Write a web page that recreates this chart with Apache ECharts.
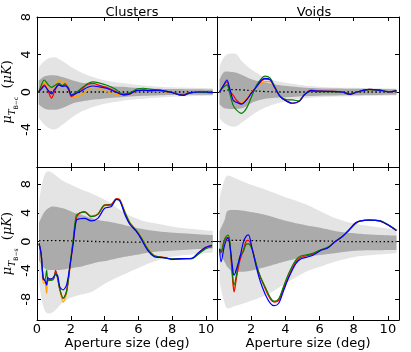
<!DOCTYPE html>
<html>
<head>
<meta charset="utf-8">
<script src="https://cdn.jsdelivr.net/npm/echarts@6/dist/echarts.min.js"></script>
<style>
  html, body { margin: 0; padding: 0; background: #fff; }
  #chart { width: 411px; height: 352px; }
</style>
</head>
<body>
<div id="chart"></div>
<script>
// ---- tick labels ----
const xTicks = [0, 2, 4, 6, 8, 10]
const xLabelsRight = [2, 4, 6, 8, 10]
const yTicksTop = [-8, -4, 0, 4, 8]
const yLabelsTop = [-4, 0, 4, 8]
const yTicksBottom = [-8, -4, 0, 4, 8]

// ---- top-left: clusters, B-c ----
const tlX = [0.1, 0.25, 0.43, 0.65, 0.86, 1.05, 1.3, 1.5, 1.65, 1.85, 2.04, 2.33, 2.7, 3.0, 3.3, 3.7, 4.1, 4.6, 5.1, 5.5, 5.9, 6.3, 6.65, 7.2, 7.6, 8.0, 8.4, 8.7, 9.0, 9.6, 10.0, 10.4]
const tlRed = [0, 0.4, 0.75, 0.1, -0.65, 0.1, 0.85, 0.6, 0.9, 0.3, -0.5, -0.1, 0.4, 0.8, 0.92, 0.7, 0.5, 0.1, -0.3, -0.2, 0.15, 0.2, 0.15, 0.15, 0.05, -0.07, -0.25, -0.25, -0.1, 0, 0, -0.05]
const tlOrange = [0, 0.5, 1.0, 0.5, 0.2, 0.6, 1.28, 1.0, 1.17, 0.5, -0.4, -0.5, -0.2, 0.2, 0.5, 0.4, 0.05, -0.2, -0.35, -0.25, 0.1, 0.2, 0.15, 0.1, 0.05, -0.05, -0.25, -0.2, -0.1, 0, -0.05, -0.05]
const tlGreen = [0, 0.7, 1.28, 0.8, 0.5, 0.7, 0.92, 0.7, 0.75, 0.5, -0.3, 0, 0.5, 0.9, 1.07, 0.95, 0.75, 0.35, -0.2, -0.1, 0.3, 0.4, 0.3, 0.2, 0.1, -0.05, -0.3, -0.35, -0.15, 0, -0.05, -0.1]
const tlBlue = [0, 0.3, 0.64, 0.2, -0.2, 0.3, 0.75, 0.6, 0.65, 0.4, -0.35, -0.14, 0.2, 0.5, 0.64, 0.55, 0.4, 0.05, -0.3, -0.2, 0.15, 0.2, 0.15, 0.2, 0.1, -0.05, -0.3, -0.35, -0.1, 0, 0, -0.05]
const tlBandX = [0.1, 0.5, 1.0, 1.5, 2.0, 2.5, 3.0, 3.5, 4.0, 5.0, 6.0, 7.0, 8.0, 9.0, 10.4]
const tlLightUp = [2.6, 3.4, 3.7, 3.3, 2.7, 2.2, 1.8, 1.5, 1.25, 0.95, 0.75, 0.6, 0.5, 0.45, 0.4]
const tlLightLo = [-2.7, -3.6, -4.0, -3.5, -2.8, -2.2, -1.8, -1.5, -1.25, -0.95, -0.75, -0.6, -0.5, -0.45, -0.4]
const tlDarkUp = [1.2, 1.7, 1.8, 1.6, 1.3, 1.05, 0.9, 0.78, 0.68, 0.55, 0.42, 0.36, 0.32, 0.3, 0.28]
const tlDarkLo = [-1.3, -1.8, -1.9, -1.7, -1.3, -1.05, -0.9, -0.78, -0.68, -0.55, -0.42, -0.36, -0.32, -0.3, -0.28]
const tlMeanX = [0.1, 10.4]
const tlMean = [0, 0]

// ---- top-right: voids, B-c ----
const trX = [0.15, 0.34, 0.58, 0.74, 0.94, 1.13, 1.43, 1.72, 2.02, 2.32, 2.61, 2.8, 3.1, 3.4, 3.7, 4.1, 4.4, 4.8, 5.1, 5.5, 5.9, 6.5, 7.3, 7.8, 8.2, 8.9, 9.5, 10.1, 10.5]
const trRed = [0, 0.57, 1.1, 0.1, -0.32, -0.85, -1.25, -0.85, -0.1, 0.6, 1.2, 1.38, 1.3, 0.4, -0.5, -1.0, -1.2, -1.0, -0.32, 0.2, 0.1, 0.07, 0, -0.25, 0, 0.28, 0.2, 0, 0.14]
const trOrange = [0, 0.5, 0.9, 0.2, -0.85, -1.0, -1.2, -0.68, 0.04, 0.57, 0.92, 1.1, 1.1, 0.35, -0.5, -1.0, -1.2, -1.0, -0.32, 0.14, 0.1, 0.07, 0, -0.25, 0, 0.25, 0.2, 0, 0.12]
const trGreen = [0, 0.45, 0.75, -0.1, -1.4, -1.9, -2.27, -1.75, -0.5, 0.75, 1.46, 1.7, 1.5, 0.5, -0.45, -0.85, -0.85, -0.95, -0.32, 0.1, 0.05, 0.05, 0, -0.2, 0, 0.25, 0.2, 0.02, 0.14]
const trBlue = [0, 0.57, 1.28, 0.4, -0.85, -1.1, -1.3, -0.85, -0.1, 0.57, 1.28, 1.46, 1.35, 0.4, -0.5, -1.0, -1.2, -1.0, -0.32, 0.14, 0.1, 0.07, 0, -0.25, 0, 0.28, 0.2, 0, 0.14]
const trBandX = [0.15, 0.5, 1.0, 1.5, 2.1, 2.9, 4.1, 5.9, 8.0, 10.5]
const trLightUp = [2.7, 3.9, 4.1, 3.2, 2.3, 1.5, 0.96, 0.57, 0.45, 0.36]
const trLightLo = [-2.8, -3.4, -3.7, -3.2, -2.4, -1.6, -0.96, -0.57, -0.45, -0.36]
const trDarkUp = [1.3, 2.2, 2.1, 1.8, 1.3, 1.0, 0.64, 0.4, 0.35, 0.3]
const trDarkLo = [-1.3, -1.75, -1.8, -1.7, -1.1, -0.7, -0.55, -0.4, -0.35, -0.3]
const trMeanX = [0.15, 0.6, 1.0, 1.5, 2.0, 2.8, 4.0, 10.5]
const trMean = [0, 0.2, 0.25, 0.22, 0.15, 0.05, 0, 0]

// ---- bottom-left: clusters, B-s ----
const blX = [0.12, 0.24, 0.37, 0.47, 0.57, 0.63, 0.77, 0.96, 1.1, 1.22, 1.35, 1.55, 1.75, 1.94, 2.14, 2.33, 2.53, 2.82, 3.2, 3.6, 4.0, 4.4, 4.7, 4.9, 5.2, 5.5, 5.86, 6.16, 6.55, 6.94, 7.24, 7.63, 8.0, 8.6, 9.18, 9.57, 9.96, 10.35]
const blRed = [-0.3, -1.6, -5.3, -5.4, -6.0, -5.4, -5.2, -5.2, -4.0, -5.0, -6.6, -7.9, -6.8, -3.7, 0, 3.3, 4.0, 4.2, 3.5, 3.8, 5.1, 5.2, 6.0, 5.8, 4.0, 2.5, 1.5, 0.5, -1.1, -2.0, -2.1, -2.25, -2.45, -2.35, -2.3, -1.5, -0.8, -0.5]
const blOrange = [-0.3, -1.6, -5.8, -5.6, -7.2, -5.6, -5.3, -5.2, -4.3, -5.2, -6.8, -8.4, -7.2, -3.9, -0.1, 3.3, 4.0, 4.2, 3.6, 3.9, 5.0, 5.2, 6.0, 5.9, 4.2, 2.7, 1.7, 0.7, -0.9, -1.9, -2.1, -2.3, -2.5, -2.4, -2.3, -1.6, -0.9, -0.6]
const blGreen = [-0.3, -1.6, -5.1, -5.3, -4.0, -5.2, -5.4, -5.3, -4.3, -5.1, -6.6, -7.9, -7.0, -3.5, 0.3, 3.7, 4.0, 4.1, 3.5, 3.8, 5.1, 5.1, 5.9, 5.7, 4.1, 2.6, 1.6, 0.6, -1.0, -2.0, -2.1, -2.3, -2.4, -2.4, -2.35, -1.7, -1.0, -0.7]
const blBlue = [-0.2, -1.6, -5.1, -5.4, -6.0, -5.0, -5.2, -5.0, -4.6, -4.7, -6.3, -6.7, -6.0, -3.5, -0.3, 3.0, 3.2, 3.25, 2.9, 3.25, 4.65, 4.9, 5.9, 5.7, 3.8, 2.4, 1.5, 0.4, -1.2, -2.1, -2.2, -2.25, -2.45, -2.35, -2.3, -1.5, -0.8, -0.5]
const blBandX = [0.12, 0.4, 0.67, 0.96, 1.45, 1.75, 2.24, 2.7, 3.2, 3.7, 4.2, 5.2, 6.16, 6.65, 7.6, 8.6, 9.5, 10.4]
const blLightUp = [5.5, 9.0, 9.8, 9.5, 8.6, 8.2, 7.7, 7.2, 6.75, 6.2, 5.6, 4.0, 3.0, 2.7, 2.3, 1.9, 1.7, 1.5]
const blLightLo = [-5.5, -9.2, -10.0, -9.8, -8.6, -8.1, -7.6, -7.3, -7.0, -6.3, -5.6, -4.5, -3.5, -3.0, -2.3, -1.9, -1.7, -1.5]
const blDarkUp = [2.6, 4.0, 4.65, 4.9, 4.7, 4.5, 4.0, 3.7, 3.3, 3.0, 2.8, 2.3, 1.8, 1.6, 1.35, 1.17, 1.05, 0.93]
const blDarkLo = [-2.6, -3.6, -3.95, -3.95, -3.9, -3.8, -3.6, -3.4, -3.1, -2.8, -2.6, -2.1, -1.7, -1.5, -1.3, -1.15, -1.0, -0.93]
const blMeanX = [0.12, 2.0, 4.0, 6.0, 8.0, 10.4]
const blMean = [0.15, 0.12, 0, -0.05, 0, 0]

// ---- bottom-right: voids, B-s ----
const brX = [0.15, 0.24, 0.44, 0.64, 0.74, 0.94, 1.0, 1.14, 1.34, 1.54, 1.7, 1.84, 2.04, 2.33, 2.53, 2.82, 3.1, 3.34, 3.6, 3.9, 4.2, 4.6, 4.9, 5.5, 6.1, 6.5, 6.9, 7.3, 7.7, 8.1, 8.4, 8.9, 9.5, 10.1, 10.5]
const brRed = [-1.0, -1.5, 0.2, 0.6, 0, -6.0, -7.0, -5.0, -2.6, -1.2, 0.05, 0.2, -0.9, -3.5, -4.9, -6.5, -7.9, -8.4, -8.2, -6.5, -4.8, -2.9, -2.2, -1.8, -1.15, -0.8, 0, 0.65, 1.6, 2.6, 2.9, 3.0, 2.9, 2.2, 1.55]
const brOrange = [-1.0, -1.5, 0.2, 0.7, 0, -5.8, -6.6, -4.8, -2.4, -1.2, 0, 0.1, -0.9, -3.4, -4.9, -6.4, -7.8, -8.3, -8.1, -6.3, -4.6, -2.8, -2.1, -1.75, -1.15, -0.8, 0, 0.65, 1.6, 2.6, 2.9, 3.0, 2.9, 2.2, 1.55]
const brGreen = [-1.0, -1.4, 0.3, 0.93, 0.2, -5.4, -6.0, -4.6, -2.0, -1.4, -0.35, -0.3, -1.0, -3.4, -4.8, -6.3, -7.7, -8.3, -8.0, -6.2, -4.4, -2.6, -2.0, -1.7, -1.1, -0.75, 0, 0.65, 1.55, 2.5, 2.9, 3.0, 2.95, 2.25, 1.6]
const brBlue = [-1.0, -2.8, -0.5, 0.5, -0.3, -4.2, -4.65, -3.8, -2.2, -0.1, 0.75, 0.95, -0.8, -3.8, -5.5, -7.3, -8.5, -8.9, -8.6, -6.8, -5.0, -3.1, -2.4, -2.0, -1.2, -0.85, 0, 0.65, 1.55, 2.6, 2.9, 3.0, 2.9, 2.2, 1.55]
const brBandX = [0.15, 0.44, 0.64, 1.0, 1.8, 2.9, 3.9, 5.2, 5.9, 6.9, 7.9, 8.9, 10.5]
const brLightUp = [6.0, 8.6, 9.2, 8.9, 8.1, 7.2, 6.3, 5.2, 4.4, 3.3, 2.6, 2.2, 1.7]
const brLightLo = [-5.5, -8.5, -9.3, -9.0, -8.4, -7.4, -6.0, -4.2, -3.6, -2.8, -2.2, -1.9, -1.6]
const brDarkUp = [1.5, 3.0, 4.3, 4.4, 4.2, 3.7, 3.0, 2.3, 2.0, 1.5, 1.2, 1.0, 0.85]
const brDarkLo = [-1.5, -2.8, -3.6, -4.2, -4.1, -3.5, -2.8, -2.1, -1.9, -1.6, -1.3, -1.2, -1.15]
const brMeanX = [0.15, 1.0, 2.0, 4.0, 6.0, 8.0, 10.5]
const brMean = [0, 0.2, 0.15, 0.05, 0.1, 0, 0]

const panels = [
	{ x: tlX, red: tlRed, orange: tlOrange, green: tlGreen, blue: tlBlue, bx: tlBandX, lu: tlLightUp, ll: tlLightLo, du: tlDarkUp, dl: tlDarkLo, mx: tlMeanX, m: tlMean },
	{ x: trX, red: trRed, orange: trOrange, green: trGreen, blue: trBlue, bx: trBandX, lu: trLightUp, ll: trLightLo, du: trDarkUp, dl: trDarkLo, mx: trMeanX, m: trMean },
	{ x: blX, red: blRed, orange: blOrange, green: blGreen, blue: blBlue, bx: blBandX, lu: blLightUp, ll: blLightLo, du: blDarkUp, dl: blDarkLo, mx: blMeanX, m: blMean },
	{ x: brX, red: brRed, orange: brOrange, green: brGreen, blue: brBlue, bx: brBandX, lu: brLightUp, ll: brLightLo, du: brDarkUp, dl: brDarkLo, mx: brMeanX, m: brMean }
]

const FONT = 'DejaVu Sans'
const pairs = (xs, ys) => xs.map((x, i) => [x, ys[i]])

const grids = [
	{ left: 37, top: 17, width: 180, height: 150 },
	{ left: 217, top: 17, width: 182, height: 150 },
	{ left: 37, top: 167, width: 180, height: 153 },
	{ left: 217, top: 167, width: 182, height: 153 }
]
const yRange = [[-8, 8], [-8, 8], [-10.9, 10.4], [-10.9, 10.4]]
const xLabels = [null, null, xTicks, xLabelsRight]
const yLabels = [yLabelsTop, null, yTicksBottom, null]

const nameRich = {
	m: { fontFamily: 'DejaVu Serif', fontStyle: 'italic', fontSize: 13, color: '#000', verticalAlign: 'bottom', padding: [0, 0, 5, 0] },
	p: { fontFamily: 'DejaVu Serif', fontSize: 13, color: '#000', verticalAlign: 'bottom', padding: [0, 0, 5, 0] },
	t: { fontFamily: 'DejaVu Serif', fontStyle: 'italic', fontSize: 9, color: '#000', verticalAlign: 'bottom', padding: [0, 0, 2, 0] },
	s: { fontFamily: 'DejaVu Sans', fontSize: 6, color: '#000', verticalAlign: 'bottom', padding: [0, 0, 0, 0] }
}
const yNames = [
	'{m|μ}{t|T}{s|B−c}{p|  (}{m|μK}{p|)}',
	'',
	'{m|μ}{t|T}{s|B−s}{p|  (}{m|μK}{p|)}',
	''
]

const tickStyle = { inside: true, length: 4, lineStyle: { color: '#000', width: 1 } }
const lineStyleAxis = { onZero: false, lineStyle: { color: '#000', width: 1 } }

const xAxis = []
const yAxis = []
grids.forEach((g, i) => {
	xAxis.push({
		type: 'value', gridIndex: i, position: 'bottom', min: 0, max: 10.65,
		axisLine: lineStyleAxis,
		axisTick: { ...tickStyle, customValues: xTicks },
		axisLabel: { show: !!xLabels[i], customValues: xLabels[i] || xTicks, margin: 3, fontSize: 13, color: '#000', fontFamily: FONT },
		splitLine: { show: false },
		name: xLabels[i] ? 'Aperture size (deg)' : '',
		nameLocation: 'middle', nameGap: 14,
		nameTextStyle: { fontSize: 13, color: '#000', fontFamily: FONT }
	})
	xAxis.push({
		type: 'value', gridIndex: i, position: 'top', min: 0, max: 10.65,
		axisLine: lineStyleAxis,
		axisTick: { ...tickStyle, customValues: xTicks },
		axisLabel: { show: false },
		splitLine: { show: false }
	})
	yAxis.push({
		type: 'value', gridIndex: i, position: 'left', min: yRange[i][0], max: yRange[i][1],
		axisLine: lineStyleAxis,
		axisTick: { ...tickStyle, customValues: yTicksTop },
		axisLabel: { show: !!yLabels[i], customValues: yLabels[i] || yTicksTop, rotate: 90, margin: 4, fontSize: 13, color: '#000', fontFamily: FONT },
		splitLine: { show: false },
		name: yNames[i], nameLocation: 'middle', nameGap: 17,
		nameTextStyle: { rich: nameRich }
	})
	yAxis.push({
		type: 'value', gridIndex: i, position: 'right', min: yRange[i][0], max: yRange[i][1],
		axisLine: lineStyleAxis,
		axisTick: { ...tickStyle, customValues: yTicksTop },
		axisLabel: { show: false },
		splitLine: { show: false }
	})
})

const series = []
panels.forEach((p, i) => {
	const ax = { xAxisIndex: i * 2, yAxisIndex: i * 2 }
	const band = (ys, color) => ({
		type: 'line', ...ax, data: pairs(p.bx, ys), smooth: 0.4, showSymbol: false,
		lineStyle: { width: 0, opacity: 0 }, areaStyle: { color, opacity: 1 }, z: 1
	})
	series.push(band(p.lu, '#e4e4e4'), band(p.ll, '#e4e4e4'))
	series.push(band(p.du, '#ababab'), band(p.dl, '#ababab'))
	series.push({
		type: 'line', ...ax, data: pairs(p.mx, p.m), smooth: 0.4, showSymbol: false,
		lineStyle: { color: '#000', width: 1.3, type: [1.5, 2.5] }, z: 2
	})
	const lines = [['orange', '#ffa500'], ['red', '#ff0000'], ['green', '#008000'], ['blue', '#0000ff']]
	lines.forEach(([k, c]) => {
		series.push({
			type: 'line', ...ax, data: pairs(p.x, p[k]), smooth: 0.3, showSymbol: false,
			lineStyle: { color: c, width: 1.2 }, z: 3
		})
	})
})

const chart = echarts.init(document.getElementById('chart'), null, { renderer: 'canvas' })
chart.setOption({
	animation: false,
	backgroundColor: '#fff',
	title: [
		{ text: 'Clusters', left: 127, top: 1, textAlign: 'center', textStyle: { fontSize: 13, fontWeight: 'normal', color: '#000', fontFamily: FONT } },
		{ text: 'Voids', left: 309, top: 1, textAlign: 'center', textStyle: { fontSize: 13, fontWeight: 'normal', color: '#000', fontFamily: FONT } }
	],
	grid: grids,
	xAxis,
	yAxis,
	series
})
</script>
</body>
</html>
